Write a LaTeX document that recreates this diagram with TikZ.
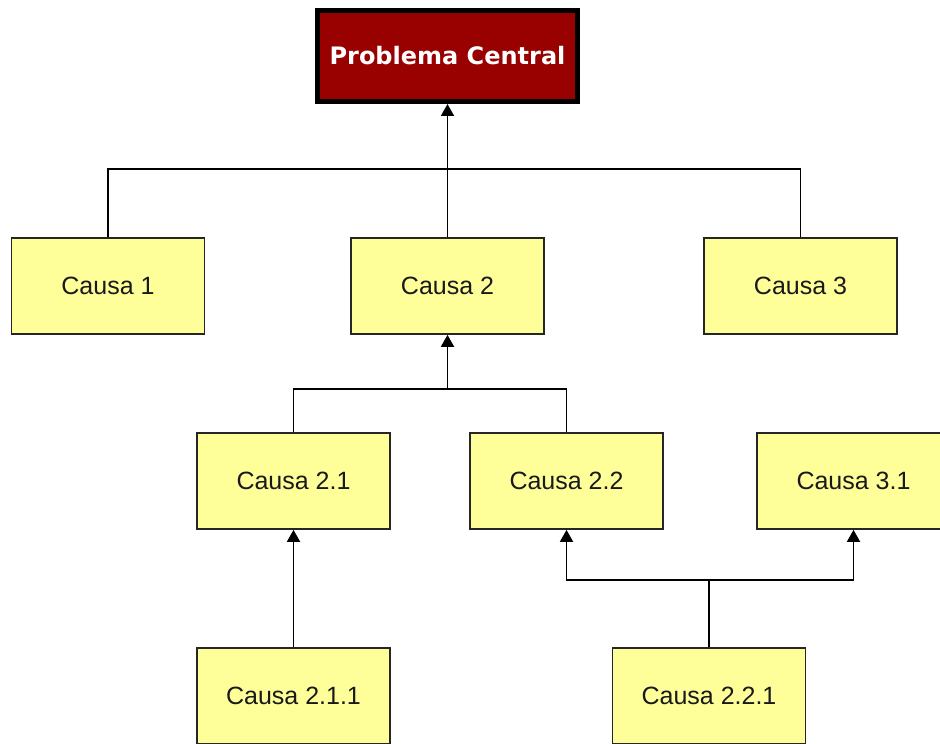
\documentclass[tikz,border=0pt]{standalone}
\usepackage{fontspec}
\setmainfont{Liberation Sans}
\newfontfamily\titlefont{DejaVu Sans}
\usepackage{xcolor}
\usetikzlibrary{arrows.meta}
\definecolor{causafill}{HTML}{FFFF99}
\definecolor{problemfill}{HTML}{990000}

\begin{document}
\begin{tikzpicture}[x=0.5pt,y=-0.5pt,
		causa/.style={draw=black!85, fill=causafill, line width=0.85pt, inner sep=0pt,
			minimum width=96.5pt, minimum height=48pt, font=\fontsize{12.5}{15}\selectfont, text=black!90},
		problema/.style={draw=black, fill=problemfill, line width=2.5pt, inner sep=0pt,
			minimum width=130pt, minimum height=45.5pt, text=white, font=\titlefont\bfseries\fontsize{12}{14}\selectfont},
		link/.style={line width=0.9pt, black},
		arr/.style={link, -{Triangle[length=6pt,width=6.5pt]}}]
				\clip (0,0) rectangle (940,743);
				\fill[white] (0,0) rectangle (940,743);
				\node[problema] (pc) at (447.5,56) {Problema Central};
				\node[causa] (c1) at (108,286) {Causa 1};
				\node[causa] (c2) at (447.5,286) {Causa 2};
				\node[causa] (c3) at (800.5,286) {Causa 3};
				\node[causa] (c21) at (293.5,481) {Causa 2.1};
				\node[causa] (c22) at (566.5,481) {Causa 2.2};
				\node[causa] (c31) at (853.5,481) {Causa 3.1};
				\node[causa] (c211) at (293.5,696) {Causa 2.1.1};
				\node[causa] (c221) at (709,696) {Causa 2.2.1};
				\coordinate (j1) at (447.5,169);
				\coordinate (j2) at (447.5,389);
				\coordinate (j3) at (709,580);
				\draw[link] (c1.north) |- (j1) -| (c3.north);
				\draw[arr] (c2.north) -- (pc.south);
				\draw[link] (c21.north) |- (j2) -| (c22.north);
				\draw[arr] (j2) -- (c2.south);
				\draw[arr] (c211.north) -- (c21.south);
				\draw[link] (c221.north) -- (j3);
				\draw[arr] (j3) -| (c22.south);
				\draw[arr] (j3) -| (c31.south);
				\end{tikzpicture}
\end{document}
